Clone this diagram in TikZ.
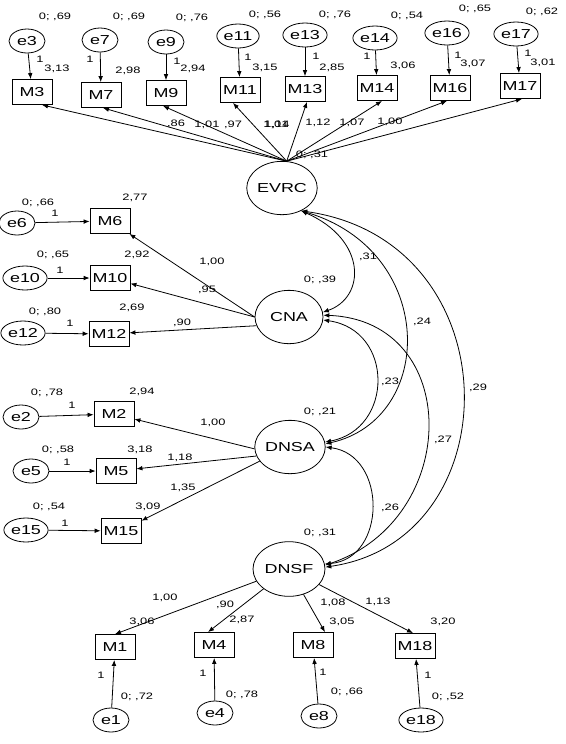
\documentclass[tikz,border=0pt]{standalone}
\usepackage{fontspec}
\setmainfont[FakeStretch=1.38]{Liberation Sans}
\usetikzlibrary{shapes.geometric,arrows.meta,calc}
\begin{document}
\begin{tikzpicture}[x=0.75pt,y=-0.75pt,
  obs/.style={draw, rectangle, minimum width=30pt, minimum height=18.75pt, inner sep=1pt, line width=0.6pt, font=\fontsize{9.75}{11}\selectfont},
  err/.style={draw, ellipse, minimum width=27pt, minimum height=18pt, inner sep=0.5pt, line width=0.6pt, font=\fontsize{9.75}{11}\selectfont},
  lat/.style={draw, ellipse, minimum width=51pt, minimum height=40pt, inner sep=0pt, line width=0.6pt, font=\fontsize{9.75}{11}\selectfont},
  lbl/.style={inner sep=0pt, font=\fontsize{7}{8}\selectfont},
  arr/.style={-{Latex[length=4.5pt,width=3.5pt]}, line width=0.6pt},
  cov/.style={{Latex[length=4.5pt,width=3.5pt]}-{Latex[length=4.5pt,width=3.5pt]}, line width=0.6pt}]
\useasboundingbox (0,0) rectangle (566,744);
% top row
\node[err] (e3) at (27,41) {e3};
\node[err] (e7) at (100,40) {e7};
\node[err] (e9) at (166,42) {e9};
\node[err] (e11) at (238,36) {e11};
\node[err] (e13) at (305,35) {e13};
\node[err] (e14) at (375,38) {e14};
\node[err] (e16) at (447,33) {e16};
\node[err] (e17) at (516,34) {e17};
\node[obs] (M3) at (32,92) {M3};
\node[obs] (M7) at (101,95) {M7};
\node[obs] (M9) at (166,93) {M9};
\node[obs] (M11) at (240,90) {M11};
\node[obs] (M13) at (305,89) {M13};
\node[obs] (M14) at (377,88) {M14};
\node[obs] (M16) at (450,88) {M16};
\node[obs] (M17) at (520,86) {M17};
% latent
\node[lat] (EVRC) at (282,188) {EVRC};
\node[lat] (CNA) at (289,317) {CNA};
\node[lat] (DNSA) at (290,447) {DNSA};
\node[lat, minimum width=54pt, minimum height=41pt] (DNSF) at (289,569) {DNSF};
% left
\node[err] (e6) at (17,223) {e6};
\node[obs] (M6) at (110,221) {M6};
\node[err] (e10) at (25,278) {e10};
\node[obs] (M10) at (110,278) {M10};
\node[err] (e12) at (23,333) {e12};
\node[obs] (M12) at (109,334) {M12};
\node[err] (e2) at (21,417) {e2};
\node[obs] (M2) at (114,414) {M2};
\node[err] (e5) at (31,471) {e5};
\node[obs] (M5) at (116,471) {M5};
\node[err] (e15) at (26,530) {e15};
\node[obs] (M15) at (121,531) {M15};
% bottom
\node[obs] (M1) at (115,647) {M1};
\node[obs] (M4) at (214,645) {M4};
\node[obs] (M8) at (313,645) {M8};
\node[obs] (M18) at (415,646) {M18};
\node[err] (e1) at (111,720) {e1};
\node[err] (e4) at (215,713) {e4};
\node[err] (e8) at (319,716) {e8};
\node[err] (e18) at (421,720) {e18};
% error arrows
\foreach \e/\m in {e3/M3,e7/M7,e9/M9,e11/M11,e13/M13,e14/M14,e16/M16,e17/M17,e6/M6,e10/M10,e12/M12,e2/M2,e5/M5,e15/M15,e1/M1,e4/M4,e8/M8,e18/M18}
  \draw[arr] (\e) -- (\m);
% EVRC loadings
\draw[arr] (EVRC.80) -- ($(M3.south)+(10,0)$);
\draw[arr] (EVRC.80) -- ($(M7.south)+(2,0)$);
\draw[arr] (EVRC.80) -- ($(M9.south)+(-3,0)$);
\draw[arr] (EVRC.80) -- ($(M11.south)+(-7,0)$);
\draw[arr] (EVRC.80) -- ($(M13.south)+(2,0)$);
\draw[arr] (EVRC.80) -- ($(M14.south)+(5,0)$);
\draw[arr] (EVRC.80) -- ($(M16.south)+(-3,0)$);
\draw[arr] (EVRC.80) -- ($(M17.south)+(2,0)$);
% CNA loadings
\draw[arr] (CNA.west) -- (M6);
\draw[arr] (CNA.west) -- (M10);
\draw[arr] (CNA.195) -- (M12);
% DNSA loadings
\draw[arr] (DNSA.183) -- (M2);
\draw[arr] (DNSA.195) -- (M5);
\draw[arr] (DNSA.205) -- (M15);
% DNSF loadings
\draw[arr] (DNSF) -- (M1.north);
\draw[arr] (DNSF) -- ($(M4.north)+(-6,0)$);
\draw[arr] (DNSF) -- ($(M8.north)+(12,0)$);
\draw[arr] (DNSF) -- ($(M18.north)+(-2,0)$);
% covariances
\draw[cov] (EVRC.-50) .. controls +(66,29) and +(43,-15) .. (CNA.8);
\draw[cov] (EVRC.-50) .. controls +(136,40) and +(111,-25) .. (DNSA.5);
\draw[cov] (EVRC.-50) .. controls +(212,30) and +(187,-27) .. (DNSF.3);
\draw[cov] (CNA.-5) .. controls +(71,10) and +(69,-13) .. (DNSA.8);
\draw[cov] (CNA.3) .. controls +(139,5) and +(137,-46) .. (DNSF.6);
\draw[cov] (DNSA.0) .. controls +(62,8) and +(62,-5) .. (DNSF.8);
% labels top
\node[lbl] (t1a) at (55,17) {0; ,69}; \node[lbl] (t1b) at (40,59) {1}; \node[lbl] (t1c) at (57,69) {3,13};
\node[lbl] (t2a) at (129,17) {0; ,69}; \node[lbl] (t2b) at (90,59) {1}; \node[lbl] (t2c) at (128,71) {2,98};
\node[lbl] (t3a) at (192,18) {0; ,76}; \node[lbl] (t3b) at (177,61) {1}; \node[lbl] (t3c) at (193,69) {2,94};
\node[lbl] (t4a) at (265,15) {0; ,56}; \node[lbl] (t4b) at (248,57) {1}; \node[lbl] (t4c) at (265,68) {3,15};
\node[lbl] (t5a) at (335,15) {0; ,76}; \node[lbl] (t5b) at (316,56) {1}; \node[lbl] (t5c) at (332,68) {2,85};
\node[lbl] (t6a) at (407,16) {0; ,54}; \node[lbl] (t6b) at (367,56) {1}; \node[lbl] (t6c) at (403,66) {3,06};
\node[lbl] (t7a) at (475,9) {0; ,65}; \node[lbl] (t7b) at (458,55) {1}; \node[lbl] (t7c) at (473,64) {3,07};
\node[lbl] (t8a) at (542,12) {0; ,62}; \node[lbl] (t8b) at (528,53) {1}; \node[lbl] (t8c) at (543,63) {3,01};
\node[lbl] (la1) at (176,124) {,86};
\node[lbl] (la2) at (207,125) {1,01};
\node[lbl] (la3) at (233,125) {,97};
\node[lbl] (la4) at (276,125) {1,01};
\node[lbl] (la5) at (277,125) {1,14};
\node[lbl] (la6) at (318,123) {1,12};
\node[lbl] (la7) at (352,123) {1,07};
\node[lbl] (la8) at (390,122) {1,00};
\node[lbl] (vEVRC) at (312,155) {0; ,31};
% labels left
\node[lbl] (l6a) at (38,203) {0; ,66}; \node[lbl] (l6b) at (55,213) {1}; \node[lbl] (l6c) at (135,198) {2,77};
\node[lbl] (l10a) at (53,255) {0; ,65}; \node[lbl] (l10b) at (60,270) {1}; \node[lbl] (l10c) at (137,255) {2,92};
\node[lbl] (l12a) at (45,312) {0; ,80}; \node[lbl] (l12b) at (70,323) {1}; \node[lbl] (l12c) at (132,308) {2,69};
\node[lbl] (lc1) at (212,262) {1,00};
\node[lbl] (lc2) at (207,290) {,95};
\node[lbl] (lc3) at (182,323) {,90};
\node[lbl] (vCNA) at (320,280) {0; ,39};
\node[lbl] (l2a) at (47,393) {0; ,78}; \node[lbl] (l2b) at (72,405) {1}; \node[lbl] (l2c) at (142,392) {2,94};
\node[lbl] (l5a) at (58,450) {0; ,58}; \node[lbl] (l5b) at (67,462) {1}; \node[lbl] (l5c) at (140,450) {3,18};
\node[lbl] (l15a) at (49,507) {0; ,54}; \node[lbl] (l15b) at (65,523) {1}; \node[lbl] (l15c) at (148,507) {3,09};
\node[lbl] (ld1) at (213,423) {1,00};
\node[lbl] (ld2) at (180,458) {1,18};
\node[lbl] (ld3) at (183,488) {1,35};
\node[lbl] (vDNSA) at (320,412) {0; ,21};
\node[lbl] (vDNSF) at (320,533) {0; ,31};
% labels bottom
\node[lbl] (lf1) at (165,598) {1,00};
\node[lbl] (lf2) at (225,605) {,90};
\node[lbl] (lf3) at (333,603) {1,08};
\node[lbl] (lf4) at (378,602) {1,13};
\node[lbl] (i1) at (142,622) {3,06};
\node[lbl] (i4) at (242,620) {2,87};
\node[lbl] (i8) at (342,622) {3,05};
\node[lbl] (i18) at (443,622) {3,20};
\node[lbl] (b1a) at (101,675) {1}; \node[lbl] (b1b) at (137,697) {0; ,72};
\node[lbl] (b4a) at (203,673) {1}; \node[lbl] (b4b) at (242,695) {0; ,78};
\node[lbl] (b8a) at (323,672) {1}; \node[lbl] (b8b) at (347,692) {0; ,66};
\node[lbl] (b18a) at (428,675) {1}; \node[lbl] (b18b) at (448,697) {0; ,52};
% covariance labels
\node[lbl] (c1) at (368,257) {,31};
\node[lbl] (c2) at (422,322) {,24};
\node[lbl] (c3) at (478,388) {,29};
\node[lbl] (c4) at (390,382) {,23};
\node[lbl] (c5) at (443,440) {,27};
\node[lbl] (c6) at (390,508) {,26};
\end{tikzpicture}
\end{document}
